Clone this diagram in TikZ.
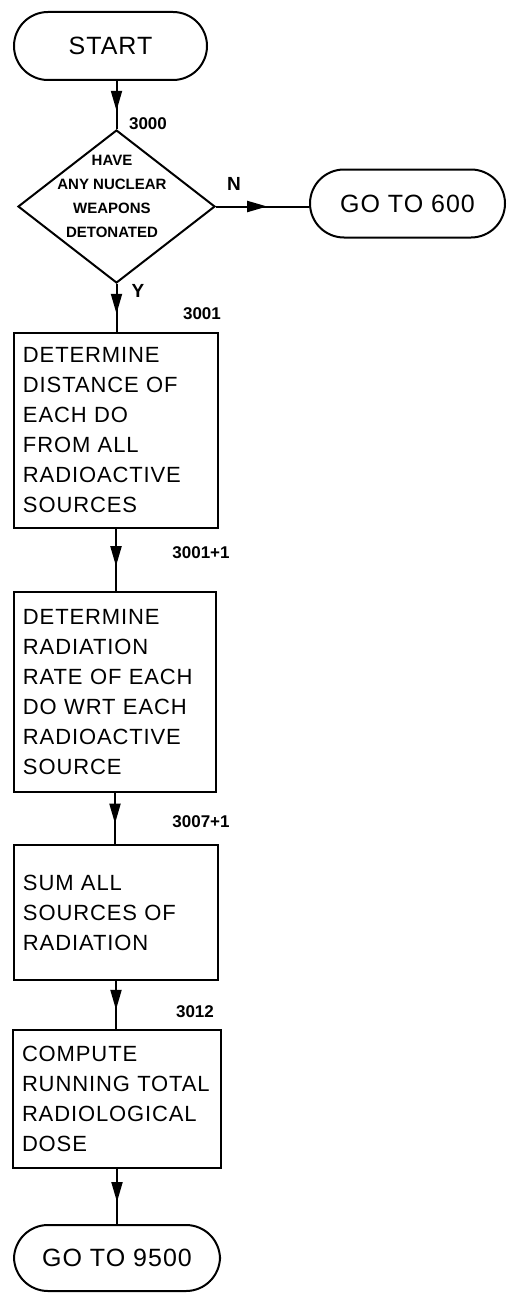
\documentclass[tikz,border=0pt]{standalone}
\usepackage{fontspec}
\setmainfont{Liberation Sans}
\newfontfamily\boxfont[LetterSpace=4]{Liberation Sans}
\usetikzlibrary{arrows.meta,decorations.markings,shapes.geometric}
\begin{document}
\begin{tikzpicture}[x=1pt,y=-1pt,
  line width=2pt,
  terminal/.style={draw, rectangle, rounded corners=34pt, minimum height=68pt,
    inner sep=0pt, font=\boxfont\fontsize{25}{28}\selectfont},
  procbox/.style={draw, rectangle, inner xsep=9pt, inner ysep=0pt, align=left,
    font=\boxfont\fontsize{22}{30}\selectfont},
  flow/.style={postaction=decorate, decoration={markings,
    mark=at position #1 with {\arrow{Triangle[length=20pt,width=11pt]}}}},
  flow/.default=0.6,
  numlabel/.style={inner sep=0pt, font=\fontsize{17}{19}\selectfont\bfseries},
  branch/.style={inner sep=0pt, font=\fontsize{19}{21}\selectfont\bfseries},
]
\useasboundingbox (0,0) rectangle (507,1295);

% terminals and decision
\node[terminal, minimum width=193pt] (start) at (110.5,46) {START};
\node[draw, diamond, minimum width=197pt, minimum height=153pt, inner sep=0pt]
  (dec) at (116.5,206.5) {};
\node[align=center, inner sep=0pt, font=\fontsize{15}{24}\selectfont\bfseries]
  (question) at (112,196) {HAVE\\ANY NUCLEAR\\WEAPONS\\DETONATED};
\node[terminal, minimum width=195pt] (g600) at (407.5,203.5) {GO TO 600};

% process boxes
\node[procbox, text width=186pt, minimum height=195pt] (b1) at (116,430.5)
  {DETERMINE\\DISTANCE OF\\EACH DO\\FROM ALL\\RADIOACTIVE\\SOURCES};
\node[procbox, text width=184pt, minimum height=200pt] (b2) at (115,692)
  {DETERMINE\\RADIATION\\RATE OF EACH\\DO WRT EACH\\RADIOACTIVE\\SOURCE};
\node[procbox, text width=186pt, minimum height=135pt] (b3) at (116,912.5)
  {SUM ALL\\SOURCES OF\\RADIATION\\[-8pt]};
\node[procbox, text width=190pt, minimum height=138pt] (b4) at (117,1099)
  {COMPUTE\\RUNNING TOTAL\\RADIOLOGICAL\\DOSE};
\node[terminal, minimum width=206pt, minimum height=66pt] (g9500) at (117,1258)
  {GO TO 9500};

% connectors
\draw[flow=0.62] (start.south -| dec.north) -- (dec.north);
\draw[flow=0.55] (dec.east) -- (dec.east -| g600.west);
\draw[flow=0.62] (dec.south) -- (dec.south |- b1.north);
\draw[flow=0.6] (b1.south) -- (b1.south |- b2.north);
\draw[flow=0.6] (b2.south) -- (b2.south |- b3.north);
\draw[flow=0.6] (b3.south) -- (b3.south |- b4.north);
\draw[flow=0.6] (b4.south) -- (b4.south |- g9500.north);

% step numbers and branch labels
\node[numlabel] (l3000) at (148,124) {3000};
\node[branch] (lN) at (234,184) {N};
\node[branch] (lY) at (138,291) {Y};
\node[numlabel] (l3001) at (202,314) {3001};
\node[numlabel] (l3001b) at (201,553) {3001+1};
\node[numlabel] (l3007) at (201,822) {3007+1};
\node[numlabel] (l3012) at (195,1012) {3012};
\end{tikzpicture}
\end{document}
